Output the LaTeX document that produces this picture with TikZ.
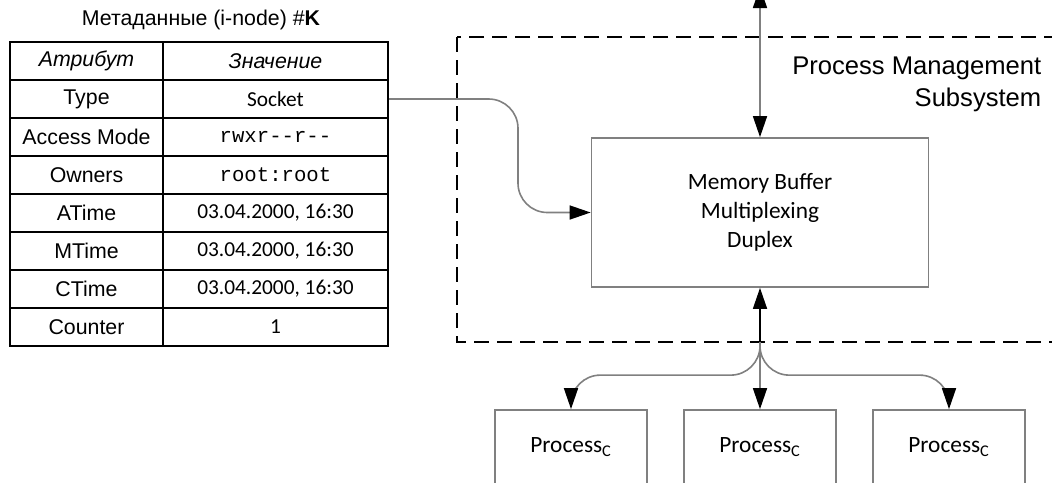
\documentclass[tikz,border=0pt]{standalone}
\usepackage{fontspec}
\setmainfont{Liberation Sans}
\setmonofont{Liberation Mono}
\newfontfamily\carlito{Carlito}
\usepackage{xcolor}
\usetikzlibrary{calc,arrows.meta}

\definecolor{linegray}{RGB}{128,128,128}

\tikzset{
  cell/.style={draw=black, line width=1.5pt, inner sep=0pt, minimum height=28.5pt, font=\fontsize{16}{19}\selectfont},
  keycell/.style={cell, minimum width=114.75pt},
  valcell/.style={cell, minimum width=168.75pt},
  headcell/.style={line width=2.2pt, font=\fontsize{16}{19}\selectfont\itshape},
  vals/.style={font=\carlito\fontsize{16}{19}\selectfont},
  monos/.style={font=\ttfamily\fontsize{15.5}{19}\selectfont},
  block/.style={draw=linegray, line width=1.3pt, inner sep=0pt, align=center, font=\carlito\fontsize{17.5}{21.75}\selectfont},
  link/.style={draw=linegray, line width=1.2pt},
  tip/.style={-{Triangle[length=15.75pt,width=10.5pt,color=black]}},
  twotips/.style={{Triangle[length=15.75pt,width=10.5pt,color=black]}-{Triangle[length=15.75pt,width=10.5pt,color=black]}},
}

\begin{document}
\begin{tikzpicture}[x=0.75pt, y=-0.75pt]
  \useasboundingbox (0,0) rectangle (1052,482);
  \clip (0,0) rectangle (1052,482);

  % Metadata table
  \node[font=\fontsize{16}{19}\selectfont] (title) at (201,20) {Метаданные (i-node) \#\textbf{K}};
  \node[keycell] (k1) at (86.5,99) {Type};
  \node[valcell, vals] (v1) at (275.5,99) {Socket};
  \node[keycell] (k2) at (86.5,137) {Access Mode};
  \node[valcell, monos] (v2) at (275.5,137) {rwxr-{}-r-{}-};
  \node[keycell] (k3) at (86.5,175) {Owners};
  \node[valcell, monos] (v3) at (275.5,175) {root:root};
  \node[keycell] (k4) at (86.5,213) {ATime};
  \node[valcell, vals] (v4) at (275.5,213) {03.04.2000, 16:30};
  \node[keycell] (k5) at (86.5,251) {MTime};
  \node[valcell, vals] (v5) at (275.5,251) {03.04.2000, 16:30};
  \node[keycell] (k6) at (86.5,289) {CTime};
  \node[valcell, vals] (v6) at (275.5,289) {03.04.2000, 16:30};
  \node[keycell] (k7) at (86.5,327) {Counter};
  \node[valcell, vals] (v7) at (275.5,327) {1};
  % header on top, thicker frame
  \node[keycell, headcell] (k0) at (86.5,61) {Атрибут};
  \node[valcell, headcell] (v0) at (275.5,61) {Значение};

  % Subsystem frame
  \draw[black, line width=1.5pt, dash pattern=on 11.25pt off 6pt] (457,37) rectangle (1120,342);
  \node[anchor=east, align=right, font=\fontsize{19.2}{24}\selectfont] (subsys) at (1046,84) {Process Management\\Subsystem};

  % Buffer and processes
  \node[block, minimum width=252.75pt, minimum height=111.75pt] (mem) at (760,212.5) {Memory Buffer\\Multiplexing\\Duplex};
  \node[block, minimum width=114pt, minimum height=55.5pt] (p1) at (571,447) {Process\textsubscript{C}};
  \node[block, minimum width=114pt, minimum height=55.5pt] (p2) at (760,447) {Process\textsubscript{C}};
  \node[block, minimum width=114pt, minimum height=55.5pt] (p3) at (949,447) {Process\textsubscript{C}};

  % Connectors
  \coordinate (top) at (760,-13);
  \coordinate (junc) at (760,342);
  \draw[link, twotips] (top) -- (mem.north);
  \draw[link, tip] (v1.east) [rounded corners=22pt] -- ++(129,0) |- (mem.west);
  \draw[black, line width=1.2pt, tip] (junc) -- (mem.south);
  \draw[link, tip] (junc) -- (p2.north);
  \draw[link, tip] (junc) [rounded corners=22pt] |- ($(p1.north)+(0,-34)$) [rounded corners=12pt] -- (p1.north);
  \draw[link, tip] (junc) [rounded corners=22pt] |- ($(p3.north)+(0,-34)$) [rounded corners=12pt] -- (p3.north);
\end{tikzpicture}
\end{document}
